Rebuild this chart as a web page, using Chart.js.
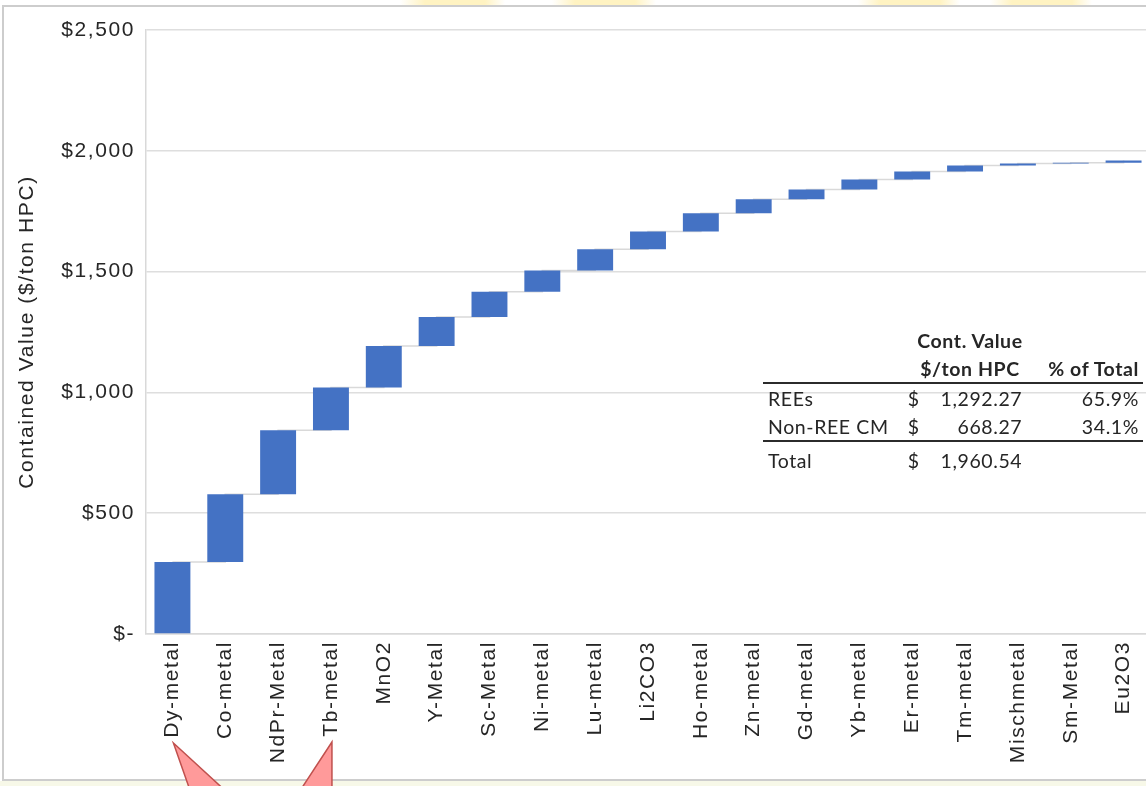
<!DOCTYPE html>
<html>
<head>
<meta charset="utf-8">
<title>Contained Value ($/ton HPC)</title>
<script src="https://cdn.jsdelivr.net/npm/chart.js@4.4.1/dist/chart.umd.min.js"></script>
<style>
  html, body {
    margin: 0;
    padding: 0;
    width: 1146px;
    height: 786px;
    overflow: hidden;
    background: linear-gradient(to right,
      #fff 0, #fff 400px, #fff3c2 425px, #fff3c2 485px, #fff 505px,
      #fff 552px, #fff3c2 575px, #fff3c2 635px, #fff 656px,
      #fff 858px, #fff3c2 880px, #fff3c2 940px, #fff 960px,
      #fff 990px, #fff3c2 1012px, #fff3c2 1072px, #fff 1092px);
  }
  #frame {
    position: absolute;
    left: 2px;
    top: 5px;
    width: 1200px;
    height: 772px;
    border: 2px solid #cdcdcd;
    border-right: none;
    background: #fff;
  }
  #bottomStrip {
    position: absolute;
    left: 0;
    top: 781px;
    width: 1146px;
    height: 5px;
    background: #f7f8e8;
  }
  #chart {
    position: absolute;
    left: 0;
    top: 0;
  }
  #summary {
    position: absolute;
    left: 763px;
    top: 326px;
    width: 380px;
    border-collapse: collapse;
    font-family: "Lato", "Open Sans", sans-serif;
    font-size: 19.5px;
    letter-spacing: 0.6px;
    color: #262626;
  }
  #summary td, #summary th {
    height: 28px;
    padding: 0;
    white-space: nowrap;
  }
  #summary th { font-weight: bold; }
  #summary .lbl { width: 140px; text-align: left; padding-left: 5px; }
  #summary .cur { width: 20px; text-align: left; padding-left: 2px; }
  #summary .val { width: 95px; text-align: right; padding-right: 2px; }
  #summary .pct { width: 118px; text-align: right; padding-right: 4px; }
  #summary .center { text-align: center; padding-left: 10px; }
  #summary tr.rule td, #summary tr.rule th { border-bottom: 2px solid #2b2b2b; }
  #summary tr.total td { padding-top: 4px; }
</style>
</head>
<body>
<div id="frame"></div>
<div id="bottomStrip"></div>
<canvas id="chart" width="1150" height="786"></canvas>

<table id="summary">
  <thead>
    <tr><th class="lbl"></th><th class="center" colspan="2">Cont. Value</th><th class="pct"></th></tr>
    <tr class="rule"><th class="lbl"></th><th class="center" colspan="2">$/ton HPC</th><th class="pct">% of Total</th></tr>
  </thead>
  <tbody id="summaryBody"></tbody>
</table>

<script>
// Chart data
const categories = [
  "Dy-metal", "Co-metal", "NdPr-Metal", "Tb-metal", "MnO2", "Y-Metal",
  "Sc-Metal", "Ni-metal", "Lu-metal", "Li2CO3", "Ho-metal", "Zn-metal",
  "Gd-metal", "Yb-metal", "Er-metal", "Tm-metal", "Mischmetal", "Sm-Metal", "Eu2O3"
];
const containedValue = [298, 280, 265, 177, 172, 120, 105, 88, 87, 74, 75, 58, 41, 41, 33, 25, 8, 4, 9];
const yTicks = [0, 500, 1000, 1500, 2000, 2500];

// Summary table
const tableLabels = ["REEs", "Non-REE CM", "Total"];
const tableValues = ["1,292.27", "668.27", "1,960.54"];
const tableShares = ["65.9%", "34.1%", ""];

// Labels with red callouts under them
const calloutTargets = ["Dy-metal", "Tb-metal"];

const axisFont = { family: "'Liberation Sans', Arial, sans-serif", size: 21 };
const textColor = "#262626";

// running totals -> floating bars
const runningTop = [];
let total = 0;
containedValue.forEach((v) => {
  total += v;
  runningTop.push(total);
});
const floatingBars = containedValue.map((v, i) => [runningTop[i] - v, runningTop[i]]);

function formatTick(value) {
  if (value === 0) return "$-";
  return "$" + Number(value).toLocaleString("en-US");
}

function buildTable() {
  const tbody = document.getElementById("summaryBody");
  tbody.innerHTML = tableLabels
    .map((label, i) => {
      const cls = i === tableLabels.length - 2 ? "rule" : (i === tableLabels.length - 1 ? "total" : "");
      return `
        <tr class="${cls}">
          <td class="lbl">${label}</td>
          <td class="cur">$</td>
          <td class="val">${tableValues[i]}</td>
          <td class="pct">${tableShares[i]}</td>
        </tr>`;
    })
    .join("");
}

// Excel text here is a bit wider than plain Arial
const letterSpacing = {
  id: "letterSpacing",
  beforeLayout(chart) { chart.ctx.letterSpacing = "1.6px"; },
  beforeDraw(chart) { chart.ctx.letterSpacing = "1.6px"; }
};

// red arrow shapes pointing at two labels
const callouts = {
  id: "callouts",
  afterDraw(chart) {
    const ctx = chart.ctx;
    const x = chart.scales.x;
    ctx.save();
    ctx.fillStyle = "#ff9a9a";
    ctx.strokeStyle = "#c0504d";
    ctx.lineWidth = 1.5;
    calloutTargets.forEach((name, k) => {
      const cx = x.getPixelForValue(categories.indexOf(name)) + 1;
      ctx.beginPath();
      if (k === 0) {
        ctx.moveTo(cx, 743);
        ctx.lineTo(cx + 20, 800);
        ctx.lineTo(cx + 62, 800);
      } else {
        ctx.moveTo(cx, 742);
        ctx.lineTo(cx - 38, 800);
        ctx.lineTo(cx, 800);
      }
      ctx.closePath();
      ctx.fill();
      ctx.stroke();
    });
    ctx.restore();
  }
};

document.addEventListener("DOMContentLoaded", () => {
  buildTable();

  const ctx = document.getElementById("chart").getContext("2d");
  new Chart(ctx, {
    type: "bar",
    data: {
      labels: categories,
      datasets: [
        {
          type: "bar",
          data: floatingBars,
          backgroundColor: "#4472c4",
          barPercentage: 0.68,
          categoryPercentage: 1,
          order: 1,
        },
        {
          // connectors: flat from one bar's top to the next bar's base
          type: "line",
          data: runningTop,
          stepped: "before",
          borderColor: "#d9d9d9",
          borderWidth: 1.5,
          pointRadius: 0,
          fill: false,
          order: 2,
        },
      ],
    },
    options: {
      responsive: false,
      animation: false,
      layout: { padding: { top: 30, left: 0, right: 0, bottom: 0 } },
      plugins: {
        legend: { display: false },
        tooltip: { enabled: false },
      },
      scales: {
        x: {
          grid: { display: false, drawTicks: false },
          border: { color: "#d9d9d9", width: 1.5 },
          ticks: {
            autoSkip: false,
            minRotation: 90,
            maxRotation: 90,
            padding: 7,
            color: textColor,
            font: axisFont,
          },
          afterFit(s) {
            s.height = 152;
            s.paddingLeft = 0;
            s.paddingRight = 0;
          },
        },
        y: {
          min: yTicks[0],
          max: yTicks[yTicks.length - 1],
          ticks: {
            stepSize: yTicks[1] - yTicks[0],
            padding: 11,
            color: textColor,
            font: axisFont,
            callback: formatTick,
          },
          grid: { color: "#dedede", lineWidth: 1.5, drawTicks: false },
          border: { color: "#d9d9d9", width: 1.5 },
          title: {
            display: true,
            text: "Contained Value ($/ton HPC)",
            color: textColor,
            font: axisFont,
            padding: { top: 15, bottom: 0 },
          },
          afterFit(s) {
            s.width = 146;
            s.paddingTop = 0;
            s.paddingBottom = 0;
          },
        },
      },
    },
    plugins: [letterSpacing, callouts],
  });
});
</script>
</body>
</html>
